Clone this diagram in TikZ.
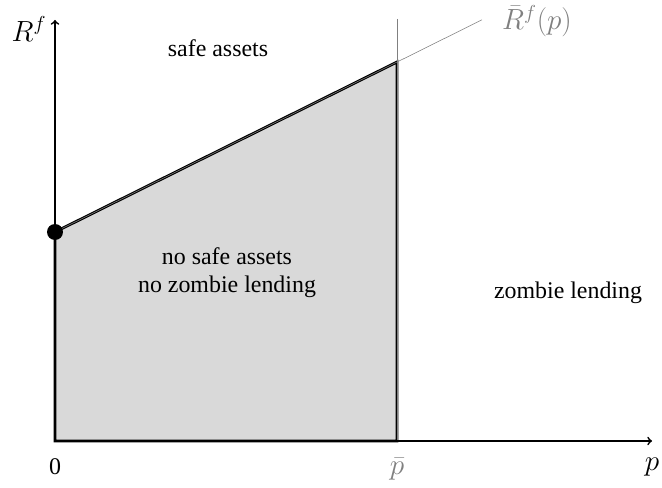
\documentclass[tikz,border=0pt]{standalone}
\usepackage{fontspec}
\setmainfont{Liberation Serif}
\begin{document}
\begin{tikzpicture}[font=\fontsize{17}{20}\selectfont,
    mathlab/.style={font=\fontsize{20}{24}\selectfont, inner sep=1pt}]
        \useasboundingbox (-1.375,-1.15) rectangle (15.175,11.025);

        \coordinate (O) at (0,0);
        \coordinate (A) at (0,5.225);
        \coordinate (B) at (8.55,9.475);
        \coordinate (C) at (8.55,0);

        \fill[gray!30] (O) -- (A) -- (B) -- (C) -- cycle;
        \draw[line width=2pt] (O) -- (A) -- (B) -- (C) -- cycle;

        \draw[gray,thin] (A) -- (10.675,10.53);
        \draw[gray,thin] (8.55,10.55) -- (C);

        \draw[line width=1.2pt,->] (O) -- (14.925,0);
        \draw[line width=1.2pt,->] (O) -- (0,10.525);
        \fill (A) circle (0.2);

        \node[mathlab] (ylab) at (-0.65,10.3) {$R^f$};
        \node[mathlab] (xlab) at (14.925,-0.65) {$p$};
        \node (zero) at (0,-0.65) {0};
        \node[mathlab,gray] (pbar) at (8.55,-0.7) {$\bar{p}$};
        \node[mathlab,gray] (rbar) at (12.05,10.5) {$\bar{R}^f(p)$};

        \node (safe) at (4.075,9.825) {safe assets};
        \node[align=center] (none) at (4.3,4.2) {no safe assets\\no zombie lending};
        \node (zombie) at (12.825,3.7) {zombie lending};
    \end{tikzpicture}
\end{document}
